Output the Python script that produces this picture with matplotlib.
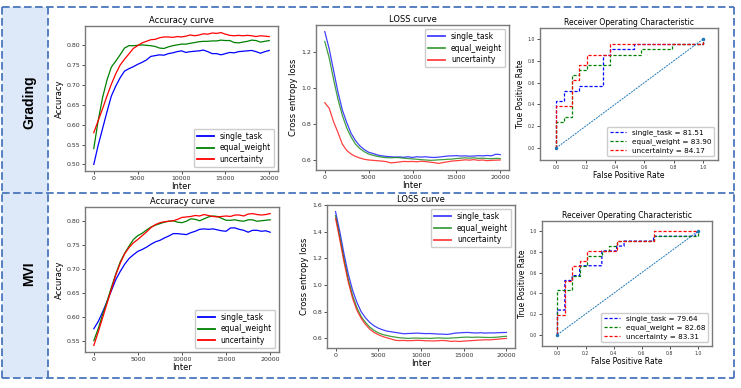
import matplotlib
matplotlib.use("Agg")
import matplotlib.pyplot as plt
from matplotlib.lines import Line2D
from matplotlib.patches import Rectangle

# ---------------- data ----------------
iters = list(range(0, 20001, 500))
series_names = ["single_task", "equal_weight", "uncertainty"]
row_labels = ["Grading", "MVI"]

g_acc_single = [0.500, 0.548, 0.590, 0.632, 0.672, 0.697, 0.718, 0.735, 0.741, 0.746, 0.752,
                0.757, 0.763, 0.772, 0.774, 0.776, 0.775, 0.779, 0.781, 0.784, 0.786,
                0.782, 0.784, 0.785, 0.786, 0.788, 0.784, 0.779, 0.779, 0.776, 0.779,
                0.782, 0.781, 0.784, 0.785, 0.786, 0.787, 0.784, 0.780, 0.784, 0.787]
g_acc_equal = [0.540, 0.610, 0.668, 0.712, 0.745, 0.760, 0.776, 0.793, 0.799, 0.799, 0.800,
               0.801, 0.800, 0.799, 0.797, 0.793, 0.792, 0.796, 0.799, 0.801, 0.803,
               0.803, 0.805, 0.807, 0.809, 0.810, 0.810, 0.811, 0.811, 0.813, 0.812,
               0.812, 0.807, 0.806, 0.808, 0.810, 0.813, 0.812, 0.808, 0.810, 0.812]
g_acc_unc = [0.580, 0.610, 0.640, 0.672, 0.702, 0.728, 0.750, 0.765, 0.778, 0.792, 0.799,
             0.806, 0.810, 0.814, 0.815, 0.819, 0.821, 0.821, 0.820, 0.822, 0.821,
             0.823, 0.826, 0.824, 0.826, 0.829, 0.828, 0.831, 0.830, 0.832, 0.828,
             0.825, 0.824, 0.825, 0.824, 0.825, 0.824, 0.822, 0.824, 0.823, 0.822]

g_loss_single = [1.315, 1.22, 1.10, 0.98, 0.88, 0.81, 0.75, 0.71, 0.68, 0.66, 0.645,
                 0.638, 0.630, 0.625, 0.622, 0.620, 0.618, 0.619, 0.617, 0.620, 0.616,
                 0.620, 0.618, 0.620, 0.617, 0.616, 0.618, 0.621, 0.624, 0.625, 0.626,
                 0.624, 0.625, 0.623, 0.624, 0.626, 0.625, 0.627, 0.625, 0.634, 0.632]
g_loss_equal = [1.26, 1.17, 1.05, 0.94, 0.85, 0.78, 0.73, 0.69, 0.665, 0.648, 0.635,
                0.628, 0.622, 0.618, 0.615, 0.614, 0.616, 0.615, 0.612, 0.610, 0.608,
                0.606, 0.604, 0.602, 0.600, 0.601, 0.603, 0.604, 0.606, 0.607, 0.610,
                0.612, 0.614, 0.612, 0.614, 0.611, 0.612, 0.610, 0.609, 0.611, 0.610]
g_loss_unc = [0.920, 0.890, 0.815, 0.755, 0.690, 0.655, 0.635, 0.622, 0.613, 0.606, 0.602,
              0.600, 0.598, 0.596, 0.593, 0.586, 0.588, 0.591, 0.594, 0.593, 0.594,
              0.592, 0.595, 0.593, 0.590, 0.587, 0.583, 0.588, 0.592, 0.596, 0.598,
              0.600, 0.603, 0.601, 0.604, 0.600, 0.602, 0.598, 0.600, 0.601, 0.602]

m_acc_single = [0.575, 0.590, 0.610, 0.632, 0.655, 0.678, 0.695, 0.710, 0.722, 0.730, 0.737,
                0.741, 0.746, 0.752, 0.757, 0.760, 0.765, 0.769, 0.774, 0.774, 0.773,
                0.772, 0.776, 0.779, 0.783, 0.784, 0.783, 0.784, 0.782, 0.780, 0.779,
                0.786, 0.786, 0.783, 0.781, 0.777, 0.781, 0.781, 0.779, 0.780, 0.777]
m_acc_equal = [0.550, 0.575, 0.605, 0.632, 0.662, 0.690, 0.715, 0.733, 0.748, 0.762, 0.770,
               0.775, 0.782, 0.788, 0.792, 0.795, 0.798, 0.800, 0.801, 0.798, 0.797,
               0.800, 0.805, 0.804, 0.801, 0.805, 0.809, 0.811, 0.810, 0.806, 0.802,
               0.802, 0.803, 0.801, 0.800, 0.803, 0.803, 0.800, 0.801, 0.802, 0.803]
m_acc_unc = [0.540, 0.568, 0.598, 0.628, 0.658, 0.688, 0.712, 0.732, 0.745, 0.755, 0.762,
             0.770, 0.778, 0.787, 0.793, 0.797, 0.799, 0.800, 0.801, 0.804, 0.808,
             0.809, 0.810, 0.812, 0.811, 0.814, 0.812, 0.810, 0.809, 0.810, 0.811,
             0.810, 0.813, 0.813, 0.811, 0.815, 0.816, 0.814, 0.813, 0.814, 0.816]

m_loss_single = [1.55, 1.40, 1.23, 1.08, 0.96, 0.87, 0.80, 0.755, 0.72, 0.695, 0.677,
                 0.665, 0.655, 0.650, 0.645, 0.640, 0.635, 0.637, 0.638, 0.640, 0.638,
                 0.636, 0.637, 0.635, 0.633, 0.632, 0.630, 0.634, 0.640, 0.642, 0.644,
                 0.645, 0.642, 0.641, 0.643, 0.640, 0.642, 0.641, 0.643, 0.644, 0.645]
m_loss_equal = [1.52, 1.36, 1.19, 1.04, 0.92, 0.83, 0.765, 0.72, 0.685, 0.66, 0.642,
                0.630, 0.622, 0.615, 0.610, 0.605, 0.603, 0.600, 0.602, 0.603, 0.601,
                0.602, 0.600, 0.602, 0.604, 0.603, 0.601, 0.603, 0.605, 0.607, 0.609,
                0.610, 0.608, 0.610, 0.609, 0.608, 0.607, 0.608, 0.610, 0.614, 0.616]
m_loss_unc = [1.50, 1.34, 1.17, 1.02, 0.90, 0.81, 0.75, 0.705, 0.67, 0.645, 0.628,
              0.615, 0.605, 0.596, 0.586, 0.584, 0.585, 0.583, 0.584, 0.586, 0.585,
              0.583, 0.582, 0.581, 0.583, 0.585, 0.583, 0.578, 0.580, 0.577, 0.580,
              0.582, 0.584, 0.586, 0.588, 0.590, 0.589, 0.592, 0.594, 0.598, 0.600]

# ROC step curves (FPR, TPR)
g_roc_single_fpr = [0.0, 0.0, 0.053, 0.053, 0.158, 0.158, 0.316, 0.316, 0.368, 0.368, 0.526, 0.526, 1.0, 1.0]
g_roc_single_tpr = [0.0, 0.429, 0.429, 0.524, 0.524, 0.571, 0.571, 0.857, 0.857, 0.905, 0.905, 0.952, 0.952, 1.0]
g_roc_equal_fpr = [0.0, 0.0, 0.053, 0.053, 0.105, 0.105, 0.158, 0.158, 0.211, 0.211, 0.368, 0.368, 0.579, 0.579, 0.789, 0.789, 1.0, 1.0]
g_roc_equal_tpr = [0.0, 0.238, 0.238, 0.286, 0.286, 0.667, 0.667, 0.714, 0.714, 0.762, 0.762, 0.857, 0.857, 0.905, 0.905, 0.952, 0.952, 1.0]
g_roc_unc_fpr = [0.0, 0.0, 0.105, 0.105, 0.158, 0.158, 0.211, 0.211, 0.368, 0.368, 1.0, 1.0]
g_roc_unc_tpr = [0.0, 0.381, 0.381, 0.619, 0.619, 0.762, 0.762, 0.857, 0.857, 0.952, 0.952, 1.0]
g_auc = [81.51, 83.90, 84.17]

m_roc_single_fpr = [0.0, 0.0, 0.053, 0.053, 0.105, 0.105, 0.158, 0.158, 0.316, 0.316, 0.421, 0.421, 0.474, 0.474, 0.684, 0.684, 0.982, 0.982, 1.0]
m_roc_single_tpr = [0.0, 0.238, 0.238, 0.524, 0.524, 0.571, 0.571, 0.667, 0.667, 0.810, 0.810, 0.857, 0.857, 0.905, 0.905, 0.952, 0.952, 0.976, 1.0]
m_roc_equal_fpr = [0.0, 0.0, 0.105, 0.105, 0.158, 0.158, 0.211, 0.211, 0.316, 0.316, 0.368, 0.368, 0.421, 0.421, 0.684, 0.684, 1.0, 1.0]
m_roc_equal_tpr = [0.0, 0.429, 0.429, 0.571, 0.571, 0.667, 0.667, 0.762, 0.762, 0.810, 0.810, 0.857, 0.857, 0.905, 0.905, 0.952, 0.952, 1.0]
m_roc_unc_fpr = [0.0, 0.0, 0.053, 0.053, 0.105, 0.105, 0.158, 0.158, 0.211, 0.211, 0.421, 0.421, 0.684, 0.684, 1.0]
m_roc_unc_tpr = [0.0, 0.190, 0.190, 0.524, 0.524, 0.667, 0.667, 0.714, 0.714, 0.810, 0.810, 0.905, 0.905, 1.0, 1.0]
m_auc = [79.64, 82.68, 83.31]

# ---------------- figure ----------------
W, H = 741, 388
fig = plt.figure(figsize=(W / 100, H / 100), dpi=100)
fig.patch.set_facecolor("white")

def rect(l, t, r, b):
    return [l / W, 1 - b / H, (r - l) / W, (b - t) / H]

def fx(x):
    return x / W

def fy(y):
    return 1 - y / H

border_col = "#4a76bd"
dash = (0, (4.2, 1.9))

# label column background
for (t, b) in [(7, 193), (193, 378)]:
    fig.add_artist(Rectangle((fx(2), fy(b)), fx(48) - fx(2), fy(t) - fy(b),
                             transform=fig.transFigure, facecolor="#dde8f8",
                             edgecolor="none", zorder=0))

def dline(x0, y0, x1, y1):
    fig.add_artist(Line2D([fx(x0), fx(x1)], [fy(y0), fy(y1)], transform=fig.transFigure,
                          color=border_col, lw=1.3, linestyle=dash, zorder=5))

dline(2, 7, 734, 7)
dline(2, 378, 734, 378)
dline(2, 193, 734, 193)
dline(2, 7, 2, 378)
dline(734, 7, 734, 378)
dline(48, 7, 48, 378)

fig.text(fx(29), fy(102), row_labels[0], rotation=90, ha="center", va="center",
         fontsize=10, fontweight="bold", family="Liberation Sans")
fig.text(fx(29), fy(274), row_labels[1], rotation=90, ha="center", va="center",
         fontsize=10, fontweight="bold", family="Liberation Sans")

colors = ["b", "g", "r"]
spine_col = "#7a7a7a"

def style_axes(ax, tick_fs):
    for s in ax.spines.values():
        s.set_color(spine_col)
        s.set_linewidth(1.0)
    ax.tick_params(labelsize=tick_fs, length=2, width=0.6, pad=1.5, colors="#333333")

def curve_panel(rc, ys, title, ylabel, legend_loc, yticks, alpha):
    ax = fig.add_axes(rect(*rc))
    for y, c, n in zip(ys, colors, series_names):
        ax.plot(iters, y, color=c, lw=0.9, alpha=alpha, label=n)
    ax.set_title(title, fontsize=6, pad=2)
    ax.set_xlabel("Inter", fontsize=6, labelpad=1)
    ax.set_ylabel(ylabel, fontsize=6, labelpad=2)
    ax.set_xticks([0, 5000, 10000, 15000, 20000])
    ax.set_yticks(yticks)
    style_axes(ax, 4.5)
    leg = ax.legend(loc=legend_loc, fontsize=5.5, handlelength=2.2, borderpad=0.4,
                    labelspacing=0.35, handletextpad=0.8, framealpha=1.0, fancybox=True)
    for l in leg.get_lines():
        l.set_linewidth(1.3)
    return ax

def roc_panel(rc, curves, aucs):
    ax = fig.add_axes(rect(*rc))
    for (fpr, tpr), c, n, a in zip(curves, colors, series_names, aucs):
        ax.plot(fpr, tpr, color=c, lw=0.9, linestyle=(0, (2.5, 1.5)),
                label=f"{n} = {a:.2f}")
    ax.plot([0, 1], [0, 1], color="#1f77b4", lw=0.7, linestyle=(0, (2, 1)),
            marker=".", markersize=3)
    ax.set_xlim(-0.11, 1.1)
    ax.set_ylim(-0.11, 1.1)
    ax.set_xticks([0.0, 0.2, 0.4, 0.6, 0.8, 1.0])
    ax.set_yticks([0.0, 0.2, 0.4, 0.6, 0.8, 1.0])
    ax.set_title("Receiver Operating Characteristic", fontsize=5.5, pad=2)
    ax.set_xlabel("False Positive Rate", fontsize=5.5, labelpad=1)
    ax.set_ylabel("True Positive Rate", fontsize=5.5, labelpad=2)
    style_axes(ax, 3.3)
    ax.legend(loc="lower right", fontsize=5.2, handlelength=2.2, borderpad=0.4,
              labelspacing=0.3, handletextpad=0.8, framealpha=1.0)
    return ax

curve_panel((85, 26, 278, 171), [g_acc_single, g_acc_equal, g_acc_unc],
            "Accuracy curve", "Accuracy", "lower right",
            [0.50, 0.55, 0.60, 0.65, 0.70, 0.75, 0.80], 1.0)
curve_panel((316, 25, 509, 170), [g_loss_single, g_loss_equal, g_loss_unc],
            "LOSS curve", "Cross entropy loss", "upper right",
            [0.6, 0.8, 1.0, 1.2], 0.75)
roc_panel((540, 28, 718, 160),
          [(g_roc_single_fpr, g_roc_single_tpr), (g_roc_equal_fpr, g_roc_equal_tpr),
           (g_roc_unc_fpr, g_roc_unc_tpr)], g_auc)

curve_panel((85, 207, 279, 352), [m_acc_single, m_acc_equal, m_acc_unc],
            "Accuracy curve", "Accuracy", "lower right",
            [0.55, 0.60, 0.65, 0.70, 0.75, 0.80], 1.0)
curve_panel((327, 205, 515, 348), [m_loss_single, m_loss_equal, m_loss_unc],
            "LOSS curve", "Cross entropy loss", "upper right",
            [0.6, 0.8, 1.0, 1.2, 1.4, 1.6], 0.75)
roc_panel((542, 221, 712, 346),
          [(m_roc_single_fpr, m_roc_single_tpr), (m_roc_equal_fpr, m_roc_equal_tpr),
           (m_roc_unc_fpr, m_roc_unc_tpr)], m_auc)

fig.savefig("out.png", dpi=100)
